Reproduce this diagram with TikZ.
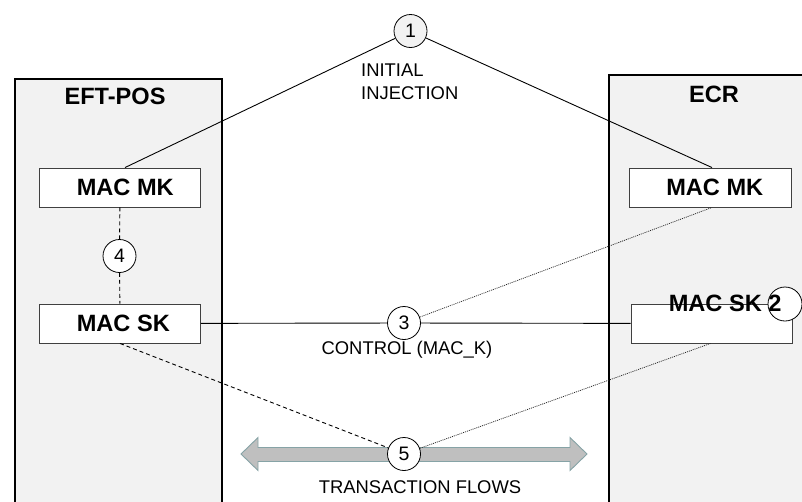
\documentclass[tikz,border=0pt]{standalone}
\usepackage{fontspec}
\setmainfont{Liberation Sans}
\definecolor{panelgray}{HTML}{F2F2F2}
\definecolor{boxedge}{HTML}{404040}
\definecolor{flowfill}{HTML}{BFBFBF}
\definecolor{flowedge}{HTML}{86A3A6}
\tikzset{
  panel/.style={draw=black, line width=2.2pt, fill=panelgray, rectangle, inner sep=0pt, anchor=north west},
  keybox/.style={draw=boxedge, line width=0.9pt, fill=white, rectangle, inner sep=0pt, minimum width=161pt, minimum height=39pt},
  boldtext/.style={inner sep=0pt, font=\fontsize{23.6}{28}\selectfont\bfseries},
  plaintext/.style={inner sep=0pt, font=\fontsize{18.4}{23}\selectfont},
  num/.style={circle, draw=black, line width=0.8pt, fill=white, minimum size=33pt, inner sep=0pt, font=\fontsize{19.5}{19.5}\selectfont},
  conn/.style={draw=black, line width=0.9pt},
  dashline/.style={draw=black, line width=0.9pt, dash pattern=on 4pt off 3pt},
  dotline/.style={draw=black!85, line width=0.75pt, dash pattern=on 1pt off 1pt},
}
\begin{document}
\begin{tikzpicture}[x=1pt,y=-1pt]
\useasboundingbox (0,0) rectangle (802,501);

% panels
\node[panel, minimum width=207pt, minimum height=440pt] (eft) at (14,78) {};
\node[panel, minimum width=220pt, minimum height=445pt] (ecr) at (608,74) {};
\node[boldtext] (eftlabel) at (115,96) {EFT-POS};
\node[boldtext] (ecrlabel) at (714,94) {ECR};

% key boxes
\node[keybox] (mkL) at (120,187.5) {};
\node[keybox] (skL) at (120,323.5) {};
\node[keybox, minimum width=162pt] (mkR) at (710,187.5) {};
\node[keybox] (skR) at (711.5,323.5) {};

% transaction flow double arrow
\path[draw=flowedge, line width=0.9pt, fill=flowfill]
  (241,454) -- (258,437.5) -- (258,447.5) -- (570,447.5) -- (570,437.5)
  -- (587,454) -- (570,470.5) -- (570,461.5) -- (258,461.5) -- (258,470.5) -- cycle;

% numbered circles
\node[num, fill=panelgray] (c1) at (410.5,31) {1};
\node[num] (c3) at (404,323) {3};
\node[num] (c4) at (119.5,256) {4};
\node[num] (c5) at (404,454) {5};
\node[num, minimum size=34pt] (c2) at (785,304) {};

% connectors
\draw[conn] (c1) -- ([xshift=5pt]mkL.north);
\draw[conn] (c1) -- ([xshift=2pt]mkR.north);
\draw[conn] (skL) -- (c3);
\draw[conn] (c3) -- (skR);
\draw[dotline] (c3) -- ([xshift=2pt]mkR.south);
\draw[dashline] (mkL) -- (c4);
\draw[dashline] (c4) -- (skL);
\draw[dashline] (skL.south) -- (c5);
\draw[dotline] (c5) -- ([xshift=-1pt]skR.south);

% box texts
\node[boldtext, anchor=west] (mkLtext) at ([xshift=37.5pt]mkL.west) {MAC MK};
\node[boldtext, anchor=west] (skLtext) at ([xshift=37.5pt]skL.west) {MAC SK};
\node[boldtext, anchor=west] (mkRtext) at ([xshift=37.5pt]mkR.west) {MAC MK};
\node[boldtext, anchor=west] (skRtext) at ([xshift=38pt]skR.north west) {MAC SK 2};

% captions
\node[plaintext, anchor=north west, align=left] (injlabel) at (361,64) {INITIAL\\INJECTION};
\node[plaintext] (ctrllabel) at (407,349.5) {CONTROL (MAC\_K)};
\node[plaintext] (flowlabel) at (420,487.5) {TRANSACTION FLOWS};
\end{tikzpicture}
\end{document}
